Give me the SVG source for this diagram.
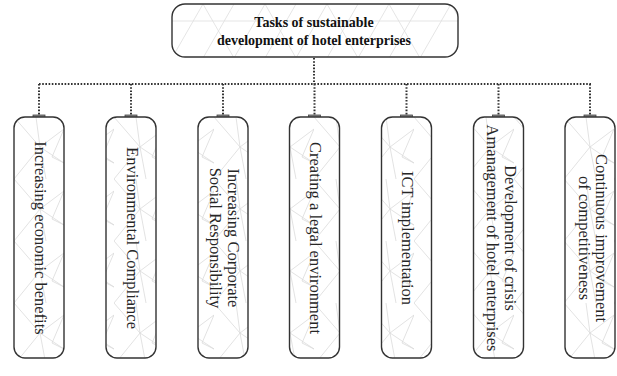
<svg xmlns="http://www.w3.org/2000/svg" width="617" height="376" viewBox="0 0 617 376">
<style>
.box{fill:url(#poly);stroke:#333;stroke-width:1.4}
.tab{fill:#8a8a8a;stroke:#444;stroke-width:0.8}
.lbl{font-family:"Liberation Serif","Times New Roman",serif;font-size:16.5px;fill:#262626;text-anchor:middle}
.ttl{font-family:"Liberation Serif","Times New Roman",serif;font-size:14px;font-weight:bold;fill:#111;text-anchor:middle}
.dot{fill:none;stroke:#333;stroke-width:2;stroke-dasharray:1.6 1.6}
</style>
<defs>
<pattern id="poly" patternUnits="userSpaceOnUse" x="14" y="117" width="50" height="62">
<rect width="50" height="62" fill="#fff"/>
<path d="M0 0 L26 30 L0 62 M26 30 L50 12 M26 30 L50 46 M26 30 L22 0 M26 30 L32 62 M50 12 L38 40 L50 46" fill="none" stroke="#dadada" stroke-width="0.8"/>
</pattern>
<pattern id="tri" patternUnits="userSpaceOnUse" x="172" y="4" width="62" height="54">
<rect width="62" height="54" fill="#fff"/>
<path d="M0 54 L31 0 L62 54 M0 17 H62 M-31 0 L0 54 M31 54 L62 0" fill="none" stroke="#dedede" stroke-width="0.8"/>
</pattern>
</defs>
<g id="connectors">
<path class="dot" d="M314 58 V84 M39 84 H591 M39 84 V115 M131 84 V115 M223 84 V115 M314.5 84 V115 M406.5 84 V115 M498.5 84 V115 M590 84 V115"/>
</g>
<g id="root">
<rect x="172" y="4" width="286" height="53" rx="13" ry="13" fill="url(#tri)" stroke="#333" stroke-width="1.4"/>
<text class="ttl" x="314" y="27">Tasks of sustainable</text>
<text class="ttl" x="314" y="45">development of hotel enterprises</text>
</g>
<g id="n1">
<rect class="tab" x="33" y="115" width="12" height="3"/>
<rect class="box" x="14" y="117" width="50" height="241" rx="11" ry="11"/>
<text class="lbl" transform="translate(39 238) rotate(90)" x="0" y="4.5">Increasing economic benefits</text>
</g>
<g id="n2">
<rect class="tab" x="125" y="115" width="12" height="3"/>
<rect class="box" x="106" y="117" width="50" height="241" rx="11" ry="11"/>
<text class="lbl" transform="translate(131 238) rotate(90)" x="0" y="4.5">Environmental Compliance</text>
</g>
<g id="n3">
<rect class="tab" x="217" y="115" width="12" height="3"/>
<rect class="box" x="198" y="117" width="50" height="241" rx="11" ry="11"/>
<text class="lbl" transform="translate(223 238) rotate(90)" x="0" y="-4.5">Increasing Corporate</text>
<text class="lbl" transform="translate(223 238) rotate(90)" x="0" y="13">Social Responsibility</text>
</g>
<g id="n4">
<rect class="tab" x="308.5" y="115" width="12" height="3"/>
<rect class="box" x="289.5" y="117" width="50" height="241" rx="11" ry="11"/>
<text class="lbl" transform="translate(314.5 238) rotate(90)" x="0" y="4.5">Creating a legal environment</text>
</g>
<g id="n5">
<rect class="tab" x="400.5" y="115" width="12" height="3"/>
<rect class="box" x="381.5" y="117" width="50" height="241" rx="11" ry="11"/>
<text class="lbl" transform="translate(406.5 238) rotate(90)" x="0" y="4.5">ICT implementation</text>
</g>
<g id="n6">
<rect class="tab" x="492.5" y="115" width="12" height="3"/>
<rect class="box" x="473.5" y="117" width="50" height="241" rx="11" ry="11"/>
<text class="lbl" transform="translate(498.5 238) rotate(90)" x="0" y="-6">Development of crisis</text>
<text class="lbl" transform="translate(498.5 238) rotate(90)" x="0" y="11.5">Amanagement of hotel enterprises</text>
</g>
<g id="n7">
<rect class="tab" x="584" y="115" width="12" height="3"/>
<rect class="box" x="565" y="117" width="50" height="241" rx="11" ry="11"/>
<text class="lbl" transform="translate(590 238) rotate(90)" x="0" y="-6">Continuous improvement</text>
<text class="lbl" transform="translate(590 238) rotate(90)" x="0" y="11.5">of competitiveness</text>
</g>
</svg>
